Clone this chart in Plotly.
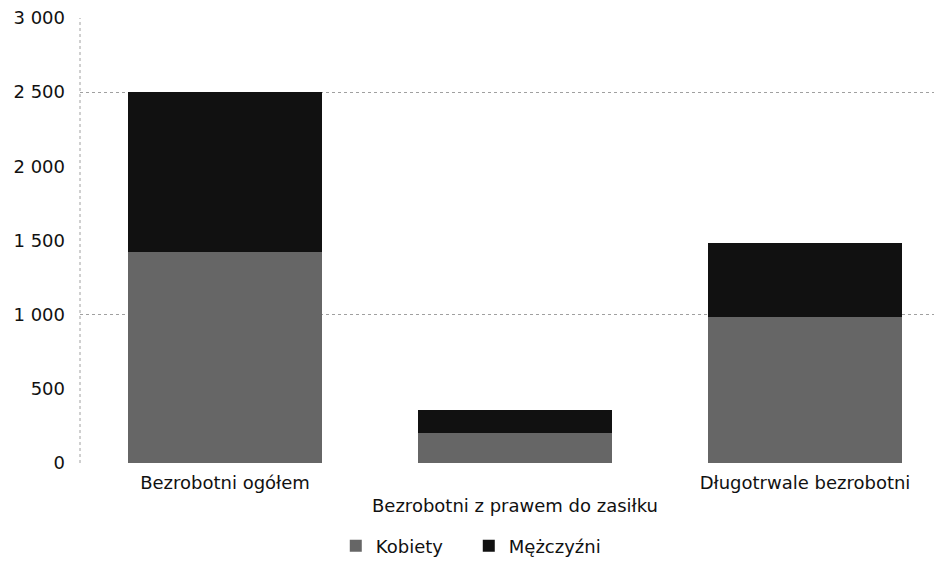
import plotly.graph_objects as go

categories = ["Bezrobotni ogółem", "Bezrobotni z prawem do zasiłku", "Długotrwale bezrobotni"]
tick_text = ["Bezrobotni ogółem", "<br>Bezrobotni z prawem do zasiłku", "Długotrwale bezrobotni"]
kobiety = [1420, 200, 985]
mezczyzni = [1080, 155, 495]
y_ticks = [0, 500, 1000, 1500, 2000, 2500, 3000]
grid_values = [0, 1000, 2500]

font = dict(family="DejaVu Sans", size=18, color="#111111")

fig = go.Figure()
fig.add_trace(go.Bar(name="Kobiety", x=categories, y=kobiety,
                     marker=dict(color="#666666", line=dict(width=0))))
fig.add_trace(go.Bar(name="Mężczyźni", x=categories, y=mezczyzni,
                     marker=dict(color="#111111", line=dict(width=0))))

fig.update_layout(
    barmode="stack",
    bargap=0.33,
    width=942, height=564,
    margin=dict(l=72, r=0, t=10, b=109, autoexpand=False),
    paper_bgcolor="white", plot_bgcolor="white",
    font=font,
    separators=", ",
    showlegend=True,
    legend=dict(orientation="h", x=0.294, xanchor="left", y=-0.145, yanchor="top",
                font=font, itemwidth=30, entrywidth=88, traceorder="normal"),
    xaxis=dict(tickmode="array", tickvals=categories, ticktext=tick_text,
               showgrid=False, showline=False, ticks="", tickfont=font,
               automargin=False, ticklabelstandoff=7),
    yaxis=dict(range=[0, 3000], tickvals=y_ticks, tickformat=",d",
               showgrid=False, zeroline=False, showline=False, ticks="",
               tickfont=font, automargin=False, ticklabelstandoff=14,
               ticklabeloverflow="allow",
               minor=dict(tickvals=grid_values, showgrid=True, gridcolor="#a0a0a0",
                          griddash="dot", gridwidth=1, ticks="")),
)
fig.add_shape(type="line", xref="paper", yref="paper", x0=0, x1=0, y0=0, y1=1,
              line=dict(color="#a0a0a0", width=1, dash="dot"), layer="below")

fig.write_html("out.html")
